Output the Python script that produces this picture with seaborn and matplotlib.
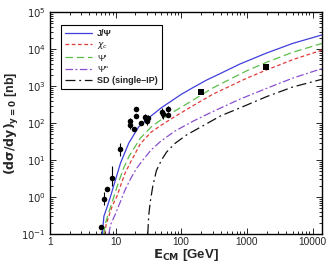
import numpy as np
import pandas as pd
import matplotlib
matplotlib.use("Agg")
import matplotlib.pyplot as plt
import seaborn as sns

# curves: energy [GeV] and log10 of d(sigma)/dy [nb]
jpsi_e = [6.3, 6.65, 7.5, 8.4, 10.0, 11.9, 15.9, 22.5, 35, 50, 100, 150, 245, 400, 780, 2000, 5000, 14000]
jpsi_lg = [-1.0, -0.52, -0.25, 0.02, 0.47, 0.92, 1.46, 1.9, 2.2, 2.42, 2.78, 2.96, 3.17, 3.35, 3.6, 3.9, 4.16, 4.39]

chic_e = [6.8, 7.2, 7.8, 9.0, 10.4, 12, 14, 17, 24, 35, 50, 80, 150, 300, 1000, 2050, 5000, 14000]
chic_lg = [-1.0, -0.75, -0.55, -0.22, 0.0, 0.32, 0.65, 0.95, 1.45, 1.76, 1.95, 2.18, 2.47, 2.78, 3.22, 3.45, 3.72, 3.98]

psi2_e = [6.6, 7.0, 7.5, 8.4, 9.4, 11, 13.4, 16, 24, 35, 50, 80, 150, 300, 1000, 2000, 5000, 14000]
psi2_lg = [-1.0, -0.72, -0.54, -0.27, 0.0, 0.38, 0.8, 1.1, 1.6, 1.9, 2.1, 2.33, 2.62, 2.95, 3.42, 3.65, 3.92, 4.16]

psi3_e = [7.9, 8.4, 10, 12, 14, 17, 21, 26, 35, 48, 79, 150, 254, 780, 2570, 5000, 14000]
psi3_lg = [-1.0, -0.75, -0.45, -0.1, 0.2, 0.5, 0.78, 1.0, 1.28, 1.5, 1.78, 2.05, 2.25, 2.65, 3.02, 3.22, 3.48]

sd_e = [31, 32, 34, 37, 42, 50, 60, 80, 120, 200, 400, 800, 2000, 5000, 14000]
sd_lg = [-1.0, -0.5, -0.1, 0.3, 0.72, 1.0, 1.22, 1.45, 1.68, 1.9, 2.2, 2.42, 2.72, 2.98, 3.19]

# data points
data_e = [6.1, 6.7, 7.3, 8.7, 11.5, 16.9, 16.9, 18.9, 20.3, 20.3, 24.2, 27.8, 29.5, 30.5, 31.3, 51, 52, 62, 62]
data_y = [0.16, 0.9, 1.7, 3.3, 20, 115, 90, 68, 240, 160, 100, 145, 130, 115, 140, 200, 180, 250, 170]
data_lo = [0.0, 0.3, 0.0, 1.3, 7, 25, 20, 0, 0, 0, 0, 35, 30, 25, 30, 60, 50, 0, 0]
data_hi = [0.0, 0.5, 0.0, 3.5, 10, 25, 20, 0, 0, 0, 0, 35, 30, 25, 30, 60, 50, 40, 30]

sq_e = [200, 1960]
sq_y = [720, 3400]

sns.set_style("ticks")
plt.rcParams['font.family'] = ['Liberation Sans', 'DejaVu Sans']
plt.rcParams['mathtext.fontset'] = 'dejavusans'

fig = plt.figure(figsize=(3.28, 2.63), dpi=100)
ax = fig.add_axes([0.152, 0.110, 0.830, 0.843])

curves = [
    ("J/Ψ", jpsi_e, jpsi_lg, "#3f3fdc", (None, None)),
    (r"$\chi_c$", chic_e, chic_lg, "#e23a3a", (3, 2)),
    ("Ψ'", psi2_e, psi2_lg, "#5cbf4a", (6, 3)),
    ("Ψ''", psi3_e, psi3_lg, "#8a4fd0", (6, 2, 1.5, 2)),
    ("SD (single–IP)", sd_e, sd_lg, "#111111", (8, 3, 1.5, 3)),
]

for label, e, lg, col, dash in curves:
    df = pd.DataFrame({"E": e, "sigma": 10 ** np.array(lg)})
    sns.lineplot(data=df, x="E", y="sigma", ax=ax, color=col, lw=0.9,
                 label=label, sort=False)
    line = ax.lines[-1]
    if dash[0] is not None:
        line.set_dashes(dash)

ax.errorbar(data_e, data_y, yerr=[data_lo, data_hi], fmt="none",
            ecolor="black", elinewidth=0.8, capsize=0)
sns.scatterplot(x=data_e, y=data_y, ax=ax, color="black", s=16,
                marker="o", edgecolor="black", linewidth=0, zorder=5)
sns.scatterplot(x=sq_e, y=sq_y, ax=ax, color="black", s=18,
                marker="s", edgecolor="black", linewidth=0, zorder=5)

ax.set_xscale("log")
ax.set_yscale("log")
ax.set_xlim(1, 14000)
ax.set_ylim(0.1, 1e5)
ax.set_xticks([1, 10, 100, 1000, 10000])
ax.set_xticklabels(["1", "10", "100", "1000", "10000"])
ax.set_yticks([1e-1, 1, 10, 1e2, 1e3, 1e4, 1e5])
ax.set_yticklabels([r"$10^{-1}$", r"$10^{0}$", r"$10^{1}$", r"$10^{2}$",
                    r"$10^{3}$", r"$10^{4}$", r"$10^{5}$"])
ax.tick_params(which="both", direction="in", top=True, right=True,
               labelsize=7.3, width=0.7)
ax.tick_params(axis="x", pad=2)
ax.tick_params(axis="y", pad=3)
ax.tick_params(which="major", length=4)
ax.tick_params(which="minor", length=2)
for s in ax.spines.values():
    s.set_linewidth(1.0)
    s.set_color("black")

ax.set_xlabel(r"$\mathbf{E_{CM}}$ [GeV]", fontsize=9.5, fontweight="bold", labelpad=0)
ax.set_ylabel(r"$\mathbf{(d\sigma/dy)_{y=0}}$ [nb]", fontsize=9, fontweight="bold")
ax.yaxis.set_label_coords(-0.105, 0.5)

leg = ax.legend(loc="upper left", bbox_to_anchor=(0.03, 0.955), fontsize=6.5,
                frameon=True, fancybox=False, handlelength=3.0,
                borderpad=0.45, labelspacing=0.25, handletextpad=0.6,
                borderaxespad=0.3)
leg.get_frame().set_edgecolor("black")
leg.get_frame().set_linewidth(0.8)
leg.get_frame().set_alpha(1)
for i in (0, 4):
    leg.get_texts()[i].set_fontweight("bold")

fig.savefig("out.png", dpi=100)
